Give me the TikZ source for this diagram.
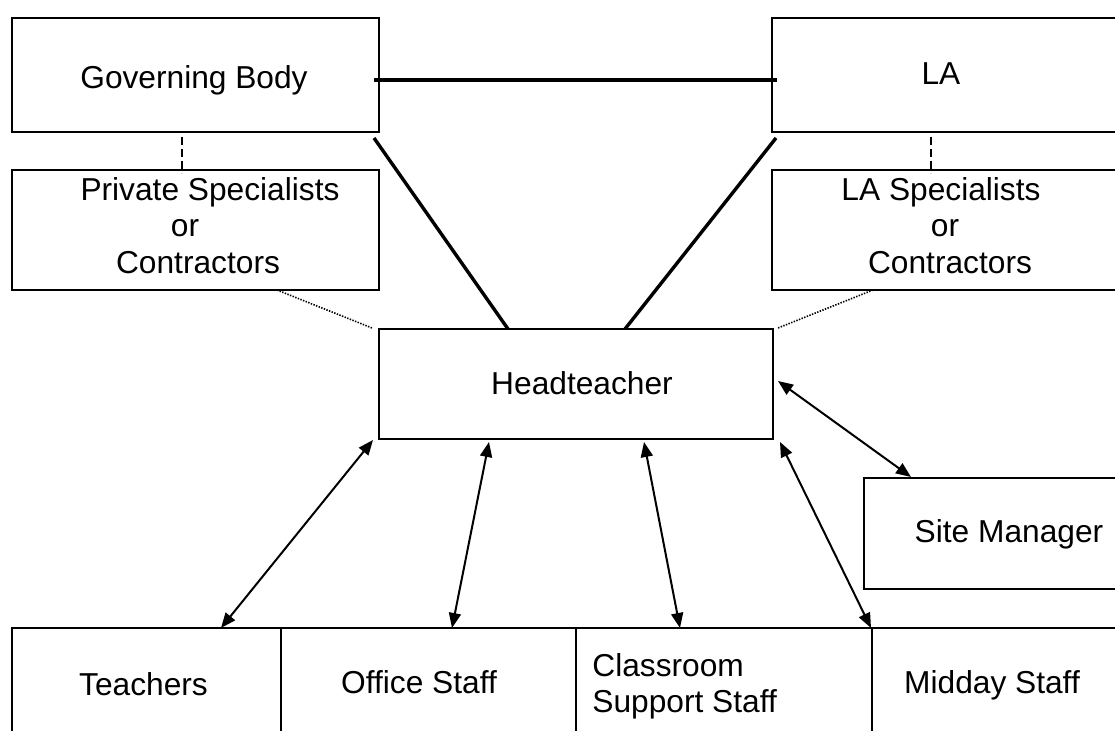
\documentclass[tikz,border=0pt]{standalone}
\usepackage{fontspec}
\setmainfont{Liberation Sans}
\usetikzlibrary{arrows.meta,calc}
\begin{document}
\begin{tikzpicture}[x=0.5pt,y=-0.5pt,
  box/.style={draw,line width=0.9pt,inner sep=0pt,outer sep=0pt,anchor=north west},
  lbl/.style={anchor=base,inner sep=0pt,font=\fontsize{15.85pt}{19pt}\selectfont},
  lbll/.style={anchor=base west,inner sep=0pt,font=\fontsize{15.85pt}{19pt}\selectfont},
  boldline/.style={line width=1.7pt},
  dashline/.style={line width=0.75pt,dash pattern=on 4pt off 2pt},
  dotline/.style={line width=0.8pt,dash pattern=on 0.7pt off 0.7pt},
  twoway/.style={line width=1pt,{Triangle[length=7.5pt,width=6pt]}-{Triangle[length=7.5pt,width=6pt]}}]
\useasboundingbox (0,0) rectangle (1115,731);
\clip (0,0) rectangle (1115,731);
\fill[white] (0,0) rectangle (1115,731);

% boxes
\node[box,minimum width=183.5pt,minimum height=57pt] (gb) at (12,18) {};
\node[box,minimum width=176.5pt,minimum height=57pt] (la) at (772,18) {};
\node[box,minimum width=183.5pt,minimum height=60pt] (ps) at (12,170) {};
\node[box,minimum width=176.5pt,minimum height=60pt] (las) at (772,170) {};
\node[box,minimum width=197pt,minimum height=55pt] (ht) at (379,329) {};
\node[box,minimum width=130.5pt,minimum height=55.5pt] (sm) at (864,478) {};
\node[box,minimum width=134.5pt,minimum height=58.5pt] (te) at (12,628) {};
\node[box,minimum width=147.5pt,minimum height=58.5pt] (of) at (281,628) {};
\node[box,minimum width=148pt,minimum height=58.5pt] (cs) at (576,628) {};
\node[box,minimum width=126.5pt,minimum height=58.5pt] (md) at (872,628) {};

% texts
\node[lbl] (gbt) at (194,89) {Governing Body};
\node[lbl] (lat) at (941,85) {LA};
\node[lbl] (pst1) at (210,201) {Private Specialists};
\node[lbl] (pst2) at (185,237) {or};
\node[lbl] (pst3) at (198,274) {Contractors};
\node[lbl] (last1) at (941,201) {LA Specialists};
\node[lbl] (last2) at (945,237) {or};
\node[lbl] (last3) at (950,274) {Contractors};
\node[lbl] (htt) at (582,395) {Headteacher};
\node[lbl] (smt) at (1009,543) {Site Manager};
\node[lbl] (tet) at (143.5,696) {Teachers};
\node[lbl] (oft) at (419,694) {Office Staff};
\node[lbll] (cst1) at (592,677) {Classroom};
\node[lbll] (cst2) at (592,713) {Support Staff};
\node[lbl] (mdt) at (992,694) {Midday Staff};

% solid lines
\draw[boldline] ($(gb.east)+(-5,5)$) -- ($(la.west)+(5,5)$);
\draw[boldline] ($(gb.south east)+(-5,6)$) -- ($(ht.north west)+(129,0)$);
\draw[boldline] ($(la.south west)+(4,6)$) -- ($(ht.north west)+(246,0)$);

% dashed
\draw[dashline] ($(gb.south west)+(170,5)$) -- ($(ps.north west)+(170,3)$);
\draw[dashline] ($(la.south west)+(159,5)$) -- ($(las.north west)+(159,3)$);

% dotted
\draw[dotline] ($(ps.south west)+(265,0)$) -- ($(ht.north west)+(-7,-1)$);
\draw[dotline] ($(las.south west)+(101,0)$) -- ($(ht.north east)+(5,-1)$);

% arrows
\draw[twoway] ($(ht.south west)+(-6,1)$) -- ($(te.north west)+(209,0)$);
\draw[twoway] ($(ht.south west)+(110,3)$) -- ($(of.north west)+(171,0)$);
\draw[twoway] ($(ht.south west)+(265,3)$) -- ($(cs.north west)+(104,0)$);
\draw[twoway] ($(ht.south east)+(7,3)$) -- ($(md.north west)+(-1,0)$);
\draw[twoway] ($(ht.east)+(5,-3)$) -- ($(sm.north west)+(47,-1)$);
\end{tikzpicture}
\end{document}
